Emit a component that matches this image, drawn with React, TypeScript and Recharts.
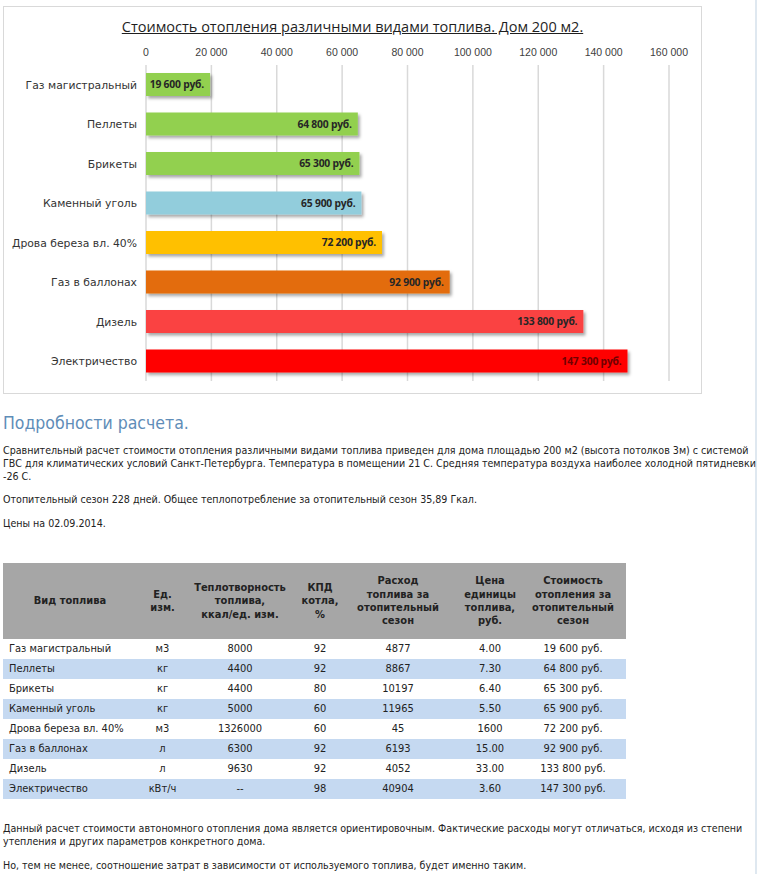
import React from "react";
import { BarChart, Bar, XAxis, YAxis, CartesianGrid, LabelList } from "recharts";

// chart data
const fuels = [
  "Газ магистральный",
  "Пеллеты",
  "Брикеты",
  "Каменный уголь",
  "Дрова береза вл. 40%",
  "Газ в баллонах",
  "Дизель",
  "Электричество",
];
const costs = [19600, 64800, 65300, 65900, 72200, 92900, 133800, 147300];
const xTicks = [0, 20000, 40000, 60000, 80000, 100000, 120000, 140000, 160000];

// table columns
const units = ["м3", "кг", "кг", "кг", "м3", "л", "л", "кВт/ч"];
const heatValues = ["8000", "4400", "4400", "5000", "1326000", "6300", "9630", "--"];
const efficiency = ["92", "92", "80", "60", "60", "92", "92", "98"];
const consumption = ["4877", "8867", "10197", "11965", "45", "6193", "4052", "40904"];
const prices = ["4.00", "7.30", "6.40", "5.50", "1600", "15.00", "33.00", "3.60"];
const headers = [
  "Вид топлива",
  "Ед.\nизм.",
  "Теплотворность\nтоплива,\nккал/ед. изм.",
  "КПД\nкотла,\n%",
  "Расход\nтоплива за\nотопительный\nсезон",
  "Цена\nединицы\nтоплива,\nруб.",
  "Стоимость\nотопления за\nотопительный\nсезон",
];

const BAR_COLORS = ["#92d050", "#92d050", "#92d050", "#92cddc", "#ffc000", "#e36c09", "#fa4343", "#ff0000"];
const COL_WIDTHS = [134, 51, 104, 56, 100, 84, 94];

const groupNum = (n: number) => String(n).replace(/\B(?=(\d{3})+(?!\d))/g, " ");
const rub = (n: number) => `${groupNum(n)} руб.`;

const chartData = fuels.map((name, i) => ({ name, cost: costs[i] }));

const ShadowBar = (props: any) => {
  const { x, y, width, height, index } = props;
  return (
    <rect
      x={x}
      y={y}
      width={width}
      height={height}
      fill={BAR_COLORS[index]}
      filter="url(#barShadow)"
    />
  );
};

const CostLabel = (props: any) => {
  const vb = props.viewBox || props;
  const { x, y, width, height } = vb;
  const { value, index } = props;
  return (
    <text
      x={x + width - 6}
      y={y + height / 2}
      dy={3.5}
      textAnchor="end"
      fontSize={10.3}
      fontWeight="bold"
      letterSpacing={-0.2}
      fontFamily="'Open Sans', sans-serif"
      fill={index === 7 ? "#700000" : "#262626"}
    >
      {rub(value)}
    </text>
  );
};

const FuelTick = (props: any) => {
  const { x, y, payload } = props;
  return (
    <text
      x={x}
      y={y}
      dy={4}
      textAnchor="end"
      fontSize={10.8}
      fill="#333"
      fontFamily="'DejaVu Sans', sans-serif"
    >
      {payload.value}
    </text>
  );
};

const pageText: React.CSSProperties = {
  position: "absolute",
  left: 3,
  fontFamily: "'DejaVu Sans Condensed', sans-serif",
  fontSize: 10.6,
  lineHeight: "13px",
  color: "#222",
  whiteSpace: "nowrap",
};

const App: React.FC = () => {
  return (
    <div
      style={{
        position: "absolute",
        left: 0,
        top: 0,
        width: 760,
        height: 874,
        background: "#fff",
        overflow: "hidden",
      }}
    >
      {/* page border on the right */}
      <div style={{ position: "absolute", left: 755, top: 0, width: 2, height: 874, background: "#dfe8f0" }} />

      {/* Chart frame */}
      <div
        style={{
          position: "absolute",
          left: 3,
          top: 6,
          width: 699,
          height: 388,
          border: "1px solid #d9d9d9",
          boxSizing: "border-box",
        }}
      />
      <div
        style={{
          position: "absolute",
          left: 3,
          top: 16,
          width: 699,
          textAlign: "center",
          fontFamily: "'Open Sans', sans-serif",
          fontSize: 14.5,
          lineHeight: "22px",
          color: "#1f1f1f",
          textDecoration: "underline",
          whiteSpace: "nowrap",
        }}
      >
        Стоимость отопления различными видами топлива. Дом 200 м2.
      </div>
      <div style={{ position: "absolute", left: 3, top: 6 }}>
        <BarChart
          width={699}
          height={388}
          data={chartData}
          layout="vertical"
          margin={{ top: 39, right: 33, left: 0, bottom: 13 }}
        >
          <defs>
            <filter id="barShadow" x="-10%" y="-30%" width="130%" height="180%">
              <feDropShadow dx="2" dy="2.5" stdDeviation="1.5" floodColor="#000" floodOpacity="0.35" />
            </filter>
          </defs>
          <CartesianGrid horizontal={false} stroke="#d9d9d9" strokeWidth={1.5} />
          <XAxis
            type="number"
            orientation="top"
            domain={[0, 160000]}
            ticks={xTicks}
            tickFormatter={groupNum}
            axisLine={false}
            tickLine={false}
            tickSize={0}
            tickMargin={9}
            height={20}
            tick={{ fontSize: 10.5, fill: "#404040", fontFamily: "'Liberation Sans', Arial, sans-serif" }}
          />
          <YAxis
            type="category"
            dataKey="name"
            width={143}
            axisLine={false}
            tickLine={false}
            tickSize={0}
            tickMargin={9}
            interval={0}
            tick={FuelTick}
          />
          <Bar dataKey="cost" barSize={23} shape={ShadowBar} isAnimationActive={false}>
            <LabelList dataKey="cost" content={CostLabel} />
          </Bar>
        </BarChart>
      </div>

      {/* Details */}
      <div
        style={{
          position: "absolute",
          left: 3,
          top: 412,
          fontFamily: "'DejaVu Sans Condensed', sans-serif",
          fontSize: 17.5,
          lineHeight: "22px",
          color: "#5f8db8",
          whiteSpace: "nowrap",
        }}
      >
        Подробности расчета.
      </div>
      <div style={{ ...pageText, top: 444 }}>
        <div>Сравнительный расчет стоимости отопления различными видами топлива приведен для дома площадью 200 м2 (высота потолков 3м) с системой</div>
        <div>ГВС для климатических условий Санкт-Петербурга. Температура в помещении 21 С. Средняя температура воздуха наиболее холодной пятидневки</div>
        <div>-26 С.</div>
      </div>
      <div style={{ ...pageText, top: 493 }}>
        Отопительный сезон 228 дней. Общее теплопотребление за отопительный сезон 35,89 Гкал.
      </div>
      <div style={{ ...pageText, top: 517 }}>Цены на 02.09.2014.</div>

      {/* Table */}
      <div style={{ position: "absolute", left: 3, top: 563, width: 623 }}>
        <div style={{ display: "flex", height: 76, background: "#a6a6a6" }}>
          {headers.map((h, c) => (
            <div
              key={c}
              style={{
                width: COL_WIDTHS[c],
                display: "flex",
                alignItems: "center",
                justifyContent: "center",
                textAlign: "center",
                whiteSpace: "pre-line",
                fontFamily: "'DejaVu Sans Condensed', sans-serif",
                fontWeight: "bold",
                fontSize: 11,
                lineHeight: "13.3px",
                color: "#222",
                paddingRight: c === 6 ? 12 : 0,
                boxSizing: "border-box",
              }}
            >
              {h}
            </div>
          ))}
        </div>
        {fuels.map((f, r) => {
          const cells = [f, units[r], heatValues[r], efficiency[r], consumption[r], prices[r], rub(costs[r])];
          return (
            <div key={f} style={{ display: "flex", height: 20, background: r % 2 ? "#c5d9f1" : "#fff" }}>
              {cells.map((v, c) => (
                <div
                  key={c}
                  style={{
                    width: COL_WIDTHS[c],
                    textAlign: c === 0 ? "left" : "center",
                    paddingLeft: c === 0 ? 6 : 0,
                    paddingRight: c === 6 ? 12 : 0,
                    boxSizing: "border-box",
                    fontFamily: "'DejaVu Sans Condensed', sans-serif",
                    fontSize: 11,
                    lineHeight: "20px",
                    color: "#222",
                    whiteSpace: "nowrap",
                  }}
                >
                  {v}
                </div>
              ))}
            </div>
          );
        })}
      </div>

      <div style={{ ...pageText, top: 822 }}>
        <div>Данный расчет стоимости автономного отопления дома является ориентировочным. Фактические расходы могут отличаться, исходя из степени</div>
        <div>утепления и других параметров конкретного дома.</div>
      </div>
      <div style={{ ...pageText, top: 859 }}>
        Но, тем не менее, соотношение затрат в зависимости от используемого топлива, будет именно таким.
      </div>
    </div>
  );
};

export default App;
